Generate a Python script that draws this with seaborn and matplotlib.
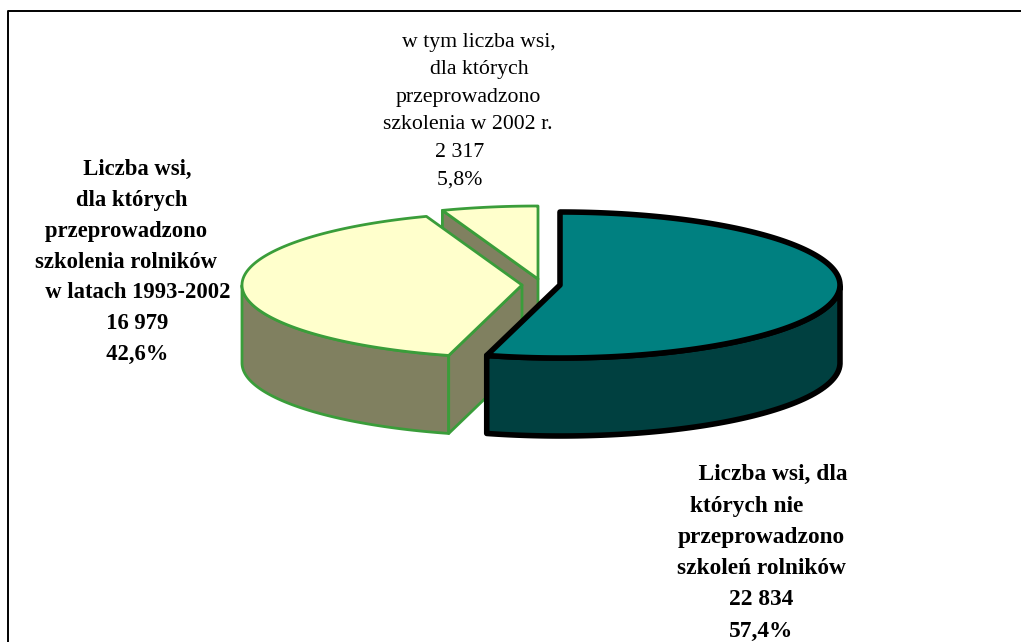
"""Exploded 3D-look pie: villages with farmer training."""
import numpy as np
import matplotlib
matplotlib.use("Agg")
import matplotlib.pyplot as plt
import seaborn as sns

slice_shares = [57.4, 36.8, 5.8]
face_colors = ["#008080", "#FFFFCC", "#FFFFCC"]
side_colors = ["#004040", "#808060", "#808060"]
edge_colors = ["#000000", "#3A9D3A", "#3A9D3A"]
edge_widths = [4.0, 2.0, 2.0]
apexes = [(560, 285), (522, 285), (538, 279)]

label_main = ("    Liczba wsi, dla\nktórych nie     \nprzeprowadzono\n"
              "szkoleń rolników\n22 834\n57,4%")
label_trained = ("  Liczba wsi,\ndla których\nprzeprowadzono  \n"
                 "szkolenia rolników  \n  w latach 1993-2002\n  16 979\n  42,6%")
label_2002 = ("    w tym liczba wsi,\n    dla których\nprzeprowadzono\n"
              "szkolenia w 2002 r.\n2 317   \n5,8%   ")

RX, RY, DEPTH = 280, 73, 78

sns.set_theme(style="white")
plt.rcParams["font.family"] = ["Liberation Serif", "DejaVu Serif"]

fig = plt.figure(figsize=(10.21, 6.42), dpi=100)
ax = fig.add_axes([0, 0, 1, 1])
ax.set_xlim(0, 1021)
ax.set_ylim(642, 0)
ax.axis("off")


def warp(deg):
    # front of the pie looks larger under the tilt
    a = np.radians(deg)
    k = np.where(np.sin(a) < 0, 1.85, 1.05)
    return np.arctan2(np.sin(a) * k, np.cos(a))


def rim(apex, a):
    return apex[0] + RX * np.cos(a), apex[1] - RY * np.sin(a)


def draw_slice(apex, start, sweep, face, side, edge, lw, z):
    deg = np.linspace(start, start - sweep, 200)
    a = np.unwrap(warp(deg))
    x, y = rim(apex, a)
    # outer wall, only the part facing the viewer
    mask = np.sin(a) <= 0
    if mask.any():
        wx = np.r_[x[mask], x[mask][::-1]]
        wy = np.r_[y[mask], y[mask][::-1] + DEPTH]
        ax.fill(wx, wy, fc=side, ec=edge, lw=lw, joinstyle="round", zorder=z)
    # cut wall at the start edge shows when it turns towards the viewer
    if np.cos(a[0]) < -0.01:
        ax.fill([apex[0], x[0], x[0], apex[0]],
                [apex[1], y[0], y[0] + DEPTH, apex[1] + DEPTH],
                fc=side, ec=edge, lw=lw, joinstyle="round", zorder=z)
    ax.fill(np.r_[apex[0], x], np.r_[apex[1], y], fc=face, ec=edge, lw=lw,
            joinstyle="round", zorder=z + 0.5)


starts = 90 - np.cumsum([0] + slice_shares[:-1]) * 3.6
order = [2, 1, 0]
for n, i in enumerate(order):
    draw_slice(apexes[i], starts[i], slice_shares[i] * 3.6, face_colors[i],
               side_colors[i], edge_colors[i], edge_widths[i], 2 + n)

# frame is open at the bottom and right of the picture
ax.plot([8, 8, 1021], [642, 11, 11], color="black", lw=1.4, zorder=1)

font = {"color": "black", "ha": "center", "va": "center"}
ax.text(132, 262, label_trained, fontweight="bold", fontsize=16.3,
        linespacing=1.62, **font)
ax.text(468, 111, label_2002, fontsize=15.7, linespacing=1.61, **font)
ax.text(761, 553, label_main, fontweight="bold", fontsize=16.8,
        linespacing=1.64, **font)

fig.savefig("out.png", dpi=100, facecolor="white")
